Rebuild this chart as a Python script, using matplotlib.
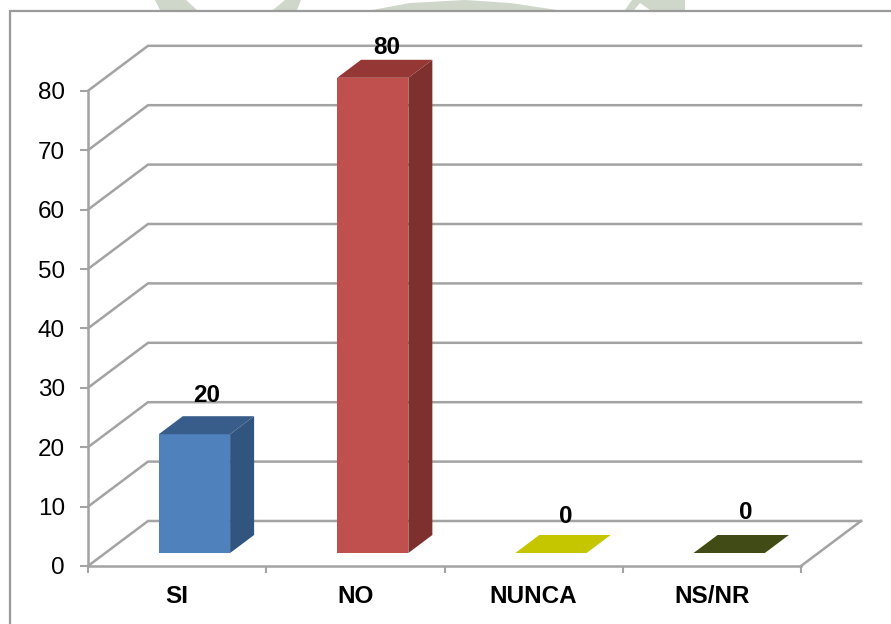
import matplotlib
matplotlib.use('Agg')
import matplotlib.pyplot as plt
from matplotlib.patches import Polygon, Rectangle

plt.rcParams['font.family'] = ['Liberation Sans', 'DejaVu Sans']

categorias = ['SI', 'NO', 'NUNCA', 'NS/NR']
valores = [20, 80, 0, 0]
ticks_y = [0, 10, 20, 30, 40, 50, 60, 70, 80]

color_frente = ['#4f81bd', '#c0504d', '#c6c600', '#404b16']
color_tapa = ['#385d8a', '#953735', '#c6c600', '#404b16']
color_lado = ['#325580', '#7d302d', '#c6c600', '#404b16']

# ajuste fino de las etiquetas de valor, en puntos
ajuste_x = [9, 10, 10.5, 12]
ajuste_y = [28, 22, 26, 29]

GRIS = '#a3a3a3'
W, H = 891, 624

fig = plt.figure(figsize=(W / 100, H / 100), dpi=100)

# marca de agua que asoma sobre el recuadro
fondo = fig.add_axes([0, 0, 1, 1])
fondo.set_xlim(0, W)
fondo.set_ylim(H, 0)
fondo.axis('off')
for forma in ([(155, 0), (186, 0), (197, 10), (160, 10)],
              [(285, 0), (301, 0), (297, 10), (273, 10)],
              [(372, 10), (410, 3), (465, 0), (510, 3), (557, 10)],
              [(625, 10), (632, 0), (685, 0), (685, 10), (650, 10), (640, 3), (634, 10)]):
    fondo.add_patch(Polygon(forma, closed=True, fc='#cfd6ca', ec='none'))
fondo.add_patch(Rectangle((10, 10.5), W + 20, H + 20, fc='white', ec='#9a9a9a', lw=1.6))

ax = fig.add_axes([88 / W, (H - 566) / H, 713 / W, 475.2 / H])
ax.patch.set_alpha(0)
ax.set_xlim(0, len(categorias))
ax.set_ylim(0, 80)

# desplazamiento oblicuo de la profundidad, en unidades de datos
px_x = 713 / len(categorias)
px_y = 475.2 / 80
DX = 60 / px_x
DY = 45 / px_y
base_d = 13 / 45
fin_d = 31 / 45


def prof(x, y, d):
    return (x + d * DX, y + d * DY)


# paredes y piso
for v in ticks_y:
    ax.plot([0, DX, len(categorias) + DX], [v, v + DY, v + DY], color=GRIS, lw=1.8,
            clip_on=False, zorder=1, solid_joinstyle='miter')
ax.plot([len(categorias), len(categorias) + DX], [0, DY], color=GRIS, lw=1.8, clip_on=False, zorder=1)

# barras en falsa perspectiva
for i, v in enumerate(valores):
    x0 = i + 0.3
    x1 = i + 0.7
    if v > 0:
        ax.add_patch(Polygon([prof(x0, 0, base_d), prof(x1, 0, base_d), prof(x1, v, base_d), prof(x0, v, base_d)],
                             closed=True, fc=color_frente[i], ec='none', clip_on=False, zorder=3))
        ax.add_patch(Polygon([prof(x1, 0, base_d), prof(x1, 0, fin_d), prof(x1, v, fin_d), prof(x1, v, base_d)],
                             closed=True, fc=color_lado[i], ec='none', clip_on=False, zorder=3))
    ax.add_patch(Polygon([prof(x0, v, base_d), prof(x1, v, base_d), prof(x1, v, fin_d), prof(x0, v, fin_d)],
                         closed=True, fc=color_tapa[i], ec='none', clip_on=False, zorder=3))
    ax.annotate(str(v), xy=prof(i + 0.5, v, base_d), xytext=(ajuste_x[i], ajuste_y[i]),
                textcoords='offset points', ha='center', va='center',
                fontsize=17.5, fontweight='bold', color='black', zorder=5, annotation_clip=False)

for lado in ['top', 'right']:
    ax.spines[lado].set_visible(False)
for lado in ['left', 'bottom']:
    ax.spines[lado].set_color(GRIS)
    ax.spines[lado].set_linewidth(1.8)

ax.set_yticks(ticks_y)
ax.set_yticklabels([str(t) for t in ticks_y], fontsize=17.5, color='black')
ax.tick_params(axis='y', length=6, width=1.5, color=GRIS, pad=10.5)

ax.set_xticks(range(len(categorias) + 1))
ax.set_xticklabels([])
ax.tick_params(axis='x', which='major', length=5, width=1.5, color=GRIS)
ax.set_xticks([i + 0.5 for i in range(len(categorias))], minor=True)
ax.set_xticklabels(categorias, minor=True, fontsize=17.5, fontweight='bold', color='black')
ax.tick_params(axis='x', which='minor', length=0, pad=14)

fig.savefig('out.png', dpi=100)
